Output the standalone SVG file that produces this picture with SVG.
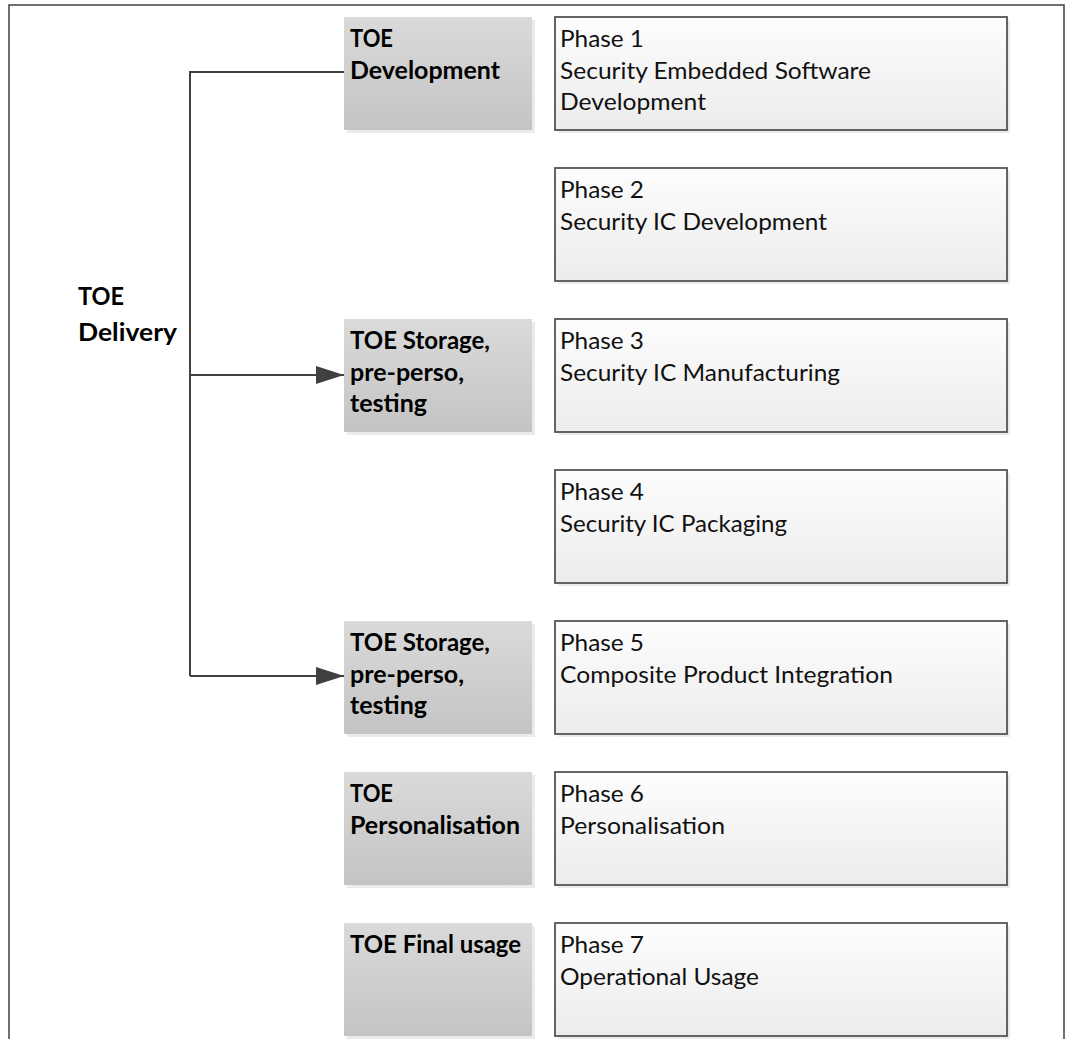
<svg xmlns="http://www.w3.org/2000/svg" width="1066" height="1039" viewBox="0 0 1066 1039">
<defs>
<linearGradient id="gGrey" x1="0" y1="0" x2="0" y2="1">
<stop offset="0" stop-color="#dadada"/>
<stop offset="1" stop-color="#c4c4c4"/>
</linearGradient>
<linearGradient id="gPhase" x1="0" y1="0" x2="0" y2="1">
<stop offset="0" stop-color="#fdfdfd"/>
<stop offset="1" stop-color="#ececec"/>
</linearGradient>
<marker id="arrow" markerWidth="28" markerHeight="18" refX="28" refY="9" orient="auto" markerUnits="userSpaceOnUse">
<path d="M0,0 L28,9 L0,18 Z" fill="#404040"/>
</marker>
<style>
.frame{fill:none;stroke:#404040;stroke-width:1.5}
.grey{fill:url(#gGrey)}
.shadow{fill:#000;opacity:0.08}
.phase{fill:url(#gPhase);stroke:#555;stroke-width:1.8}
.conn{fill:none;stroke:#404040;stroke-width:2}
.lbl{font-family:Lato,"Liberation Sans",sans-serif;font-size:24px;font-weight:bold;fill:#000}
.ptxt{font-family:Lato,"Liberation Sans",sans-serif;font-size:24px;fill:#111}
</style>
</defs>
<rect width="1066" height="1039" fill="#fff"/>
<path class="frame" d="M9,1039 V5 H1064 V1039"/>

<g id="connectors">
<path class="conn" d="M344,72 H190 V676"/>
<path class="conn" d="M190,375 H344" marker-end="url(#arrow)"/>
<path class="conn" d="M190,676 H344" marker-end="url(#arrow)"/>
</g>

<g id="toe-delivery">
<text class="lbl" x="78" y="305" textLength="46" lengthAdjust="spacingAndGlyphs">TOE</text>
<text class="lbl" x="78" y="341" textLength="99" lengthAdjust="spacingAndGlyphs">Delivery</text>
</g>

<g id="toe-development">
<rect class="shadow" x="347" y="20" width="188" height="113"/>
<rect class="grey" x="344" y="17" width="188" height="113"/>
<text class="lbl" x="350" y="47" textLength="43" lengthAdjust="spacingAndGlyphs">TOE</text>
<text class="lbl" x="350" y="79" textLength="150" lengthAdjust="spacingAndGlyphs">Development</text>
</g>

<g id="toe-storage-1">
<rect class="shadow" x="347" y="322" width="188" height="113"/>
<rect class="grey" x="344" y="319" width="188" height="113"/>
<text class="lbl" x="350" y="349" textLength="140" lengthAdjust="spacingAndGlyphs">TOE Storage,</text>
<text class="lbl" x="350" y="381" textLength="114" lengthAdjust="spacingAndGlyphs">pre-perso,</text>
<text class="lbl" x="350" y="412" textLength="77" lengthAdjust="spacingAndGlyphs">testing</text>
</g>

<g id="toe-storage-2">
<rect class="shadow" x="347" y="624" width="188" height="113"/>
<rect class="grey" x="344" y="621" width="188" height="113"/>
<text class="lbl" x="350" y="651" textLength="140" lengthAdjust="spacingAndGlyphs">TOE Storage,</text>
<text class="lbl" x="350" y="683" textLength="114" lengthAdjust="spacingAndGlyphs">pre-perso,</text>
<text class="lbl" x="350" y="714" textLength="77" lengthAdjust="spacingAndGlyphs">testing</text>
</g>

<g id="toe-personalisation">
<rect class="shadow" x="347" y="775" width="188" height="113"/>
<rect class="grey" x="344" y="772" width="188" height="113"/>
<text class="lbl" x="350" y="802" textLength="43" lengthAdjust="spacingAndGlyphs">TOE</text>
<text class="lbl" x="350" y="834" textLength="170" lengthAdjust="spacingAndGlyphs">Personalisation</text>
</g>

<g id="toe-final-usage">
<rect class="shadow" x="347" y="926" width="188" height="113"/>
<rect class="grey" x="344" y="923" width="188" height="113"/>
<text class="lbl" x="350" y="953" textLength="171" lengthAdjust="spacingAndGlyphs">TOE Final usage</text>
</g>

<g id="phase1">
<rect class="shadow" x="558" y="20" width="452" height="113"/>
<rect class="phase" x="555" y="17" width="452" height="113"/>
<text class="ptxt" x="560" y="47" textLength="84" lengthAdjust="spacingAndGlyphs">Phase 1</text>
<text class="ptxt" x="560" y="79" textLength="311" lengthAdjust="spacingAndGlyphs">Security Embedded Software</text>
<text class="ptxt" x="560" y="110" textLength="146" lengthAdjust="spacingAndGlyphs">Development</text>
</g>

<g id="phase2">
<rect class="shadow" x="558" y="171" width="452" height="113"/>
<rect class="phase" x="555" y="168" width="452" height="113"/>
<text class="ptxt" x="560" y="198" textLength="84" lengthAdjust="spacingAndGlyphs">Phase 2</text>
<text class="ptxt" x="560" y="230" textLength="267" lengthAdjust="spacingAndGlyphs">Security IC Development</text>
</g>

<g id="phase3">
<rect class="shadow" x="558" y="322" width="452" height="113"/>
<rect class="phase" x="555" y="319" width="452" height="113"/>
<text class="ptxt" x="560" y="349" textLength="84" lengthAdjust="spacingAndGlyphs">Phase 3</text>
<text class="ptxt" x="560" y="381" textLength="280" lengthAdjust="spacingAndGlyphs">Security IC Manufacturing</text>
</g>

<g id="phase4">
<rect class="shadow" x="558" y="473" width="452" height="113"/>
<rect class="phase" x="555" y="470" width="452" height="113"/>
<text class="ptxt" x="560" y="500" textLength="84" lengthAdjust="spacingAndGlyphs">Phase 4</text>
<text class="ptxt" x="560" y="532" textLength="227" lengthAdjust="spacingAndGlyphs">Security IC Packaging</text>
</g>

<g id="phase5">
<rect class="shadow" x="558" y="624" width="452" height="113"/>
<rect class="phase" x="555" y="621" width="452" height="113"/>
<text class="ptxt" x="560" y="651" textLength="84" lengthAdjust="spacingAndGlyphs">Phase 5</text>
<text class="ptxt" x="560" y="683" textLength="333" lengthAdjust="spacingAndGlyphs">Composite Product Integration</text>
</g>

<g id="phase6">
<rect class="shadow" x="558" y="775" width="452" height="113"/>
<rect class="phase" x="555" y="772" width="452" height="113"/>
<text class="ptxt" x="560" y="802" textLength="84" lengthAdjust="spacingAndGlyphs">Phase 6</text>
<text class="ptxt" x="560" y="834" textLength="165" lengthAdjust="spacingAndGlyphs">Personalisation</text>
</g>

<g id="phase7">
<rect class="shadow" x="558" y="926" width="452" height="113"/>
<rect class="phase" x="555" y="923" width="452" height="113"/>
<text class="ptxt" x="560" y="953" textLength="84" lengthAdjust="spacingAndGlyphs">Phase 7</text>
<text class="ptxt" x="560" y="985" textLength="199" lengthAdjust="spacingAndGlyphs">Operational Usage</text>
</g>
</svg>
